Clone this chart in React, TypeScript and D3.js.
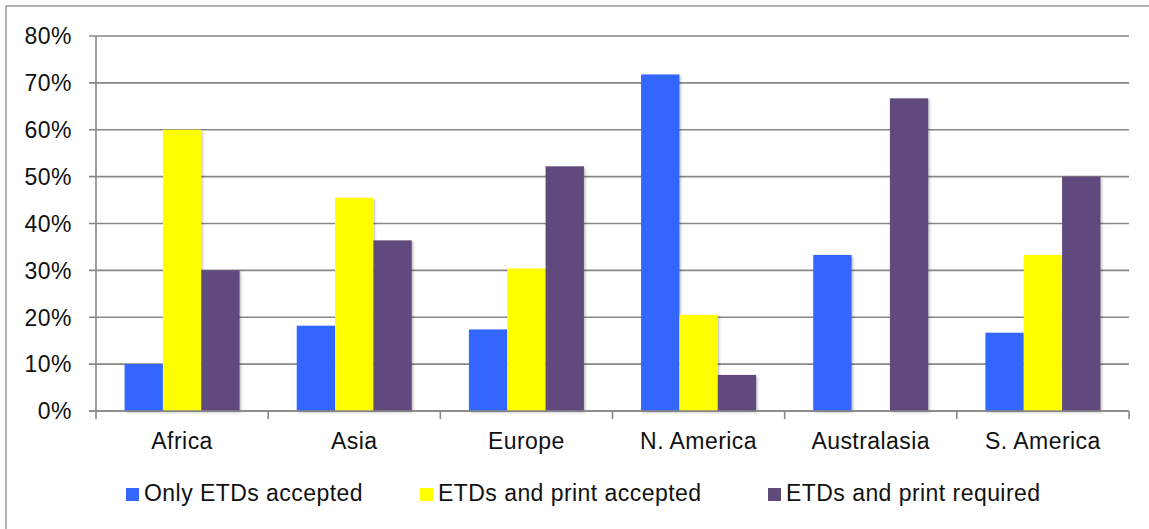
import React from "react";
import * as d3 from "d3";

const regions = ["Africa", "Asia", "Europe", "N. America", "Australasia", "S. America"];
const seriesNames = ["Only ETDs accepted", "ETDs and print accepted", "ETDs and print required"];
const onlyEtds = [10, 18.2, 17.4, 71.8, 33.3, 16.7];
const etdsAndPrintAccepted = [60, 45.5, 30.4, 20.5, 0, 33.3];
const etdsAndPrintRequired = [30, 36.4, 52.2, 7.7, 66.7, 50];
const yTicks = [0, 10, 20, 30, 40, 50, 60, 70, 80];
const colors = ["#3366FF", "#FFFF00", "#604A7B"];

const W = 1149;
const H = 529;
const left = 96;
const right = 1129;
const top = 36;
const bottom = 411;
const font = "'Liberation Sans', Arial, Helvetica, sans-serif";
const fontSize = 23;
const spacing = 0.45;

export default function App() {
  const series = [onlyEtds, etdsAndPrintAccepted, etdsAndPrintRequired];
  const x0 = d3.scaleBand<string>().domain(regions).range([left, right]).paddingInner(0).paddingOuter(0);
  const groupW = x0.bandwidth() * 0.668;
  const x1 = d3
    .scaleBand<number>()
    .domain([0, 1, 2])
    .range([(x0.bandwidth() - groupW) / 2, (x0.bandwidth() + groupW) / 2])
    .padding(0);
  const y = d3.scaleLinear().domain([0, 80]).range([bottom, top]);

  const legendX = [126, 420, 768];

  return (
    <svg
      width={W}
      height={H}
      style={{ position: "absolute", left: 0, top: 0, background: "#fff" }}
      fontFamily={font}
      letterSpacing={spacing}
    >
      <defs>
        <filter id="barShadow" x="-20%" y="-5%" width="140%" height="115%">
          <feDropShadow dx="1.5" dy="1.5" stdDeviation="1.2" floodColor="#000" floodOpacity="0.25" />
        </filter>
      </defs>
      <rect x={6} y={6} width={W + 10} height={H + 10} fill="#fff" stroke="#9a9a9a" strokeWidth={1.5} />

      {/* gridlines and y tick labels */}
      {yTicks.map((t) => (
        <g key={t}>
          <line x1={89} x2={right} y1={y(t)} y2={y(t)} stroke="#878787" strokeWidth={1.6} />
          <text x={72} y={y(t)} dy="0.36em" textAnchor="end" fontSize={fontSize} fill="#111">
            {t}%
          </text>
        </g>
      ))}

      {/* bars */}
      {regions.map((r, i) => (
        <g key={r} transform={`translate(${x0(r)},0)`}>
          {series.map((s, k) =>
            s[i] > 0 ? (
              <rect
                key={k}
                x={x1(k)}
                width={x1.bandwidth()}
                y={y(s[i])}
                height={y(0) - y(s[i])}
                fill={colors[k]}
                filter="url(#barShadow)"
              />
            ) : null
          )}
        </g>
      ))}

      {/* axes */}
      <line x1={left} x2={left} y1={top} y2={419} stroke="#878787" strokeWidth={1.6} />
      <line x1={89} x2={right} y1={bottom} y2={bottom} stroke="#878787" strokeWidth={1.6} />
      {regions.map((r) => (
        <line key={r} x1={(x0(r) as number) + x0.bandwidth()} x2={(x0(r) as number) + x0.bandwidth()} y1={bottom} y2={419} stroke="#878787" strokeWidth={1.6} />
      ))}
      {regions.map((r) => (
        <text key={r} x={(x0(r) as number) + x0.bandwidth() / 2} y={449} textAnchor="middle" fontSize={fontSize} fill="#111">
          {r}
        </text>
      ))}

      {/* legend */}
      {seriesNames.map((n, k) => (
        <g key={n}>
          <rect x={legendX[k]} y={488} width={13} height={13} fill={colors[k]} />
          <text x={legendX[k] + 18} y={501} fontSize={fontSize} fill="#111">
            {n}
          </text>
        </g>
      ))}
    </svg>
  );
}
